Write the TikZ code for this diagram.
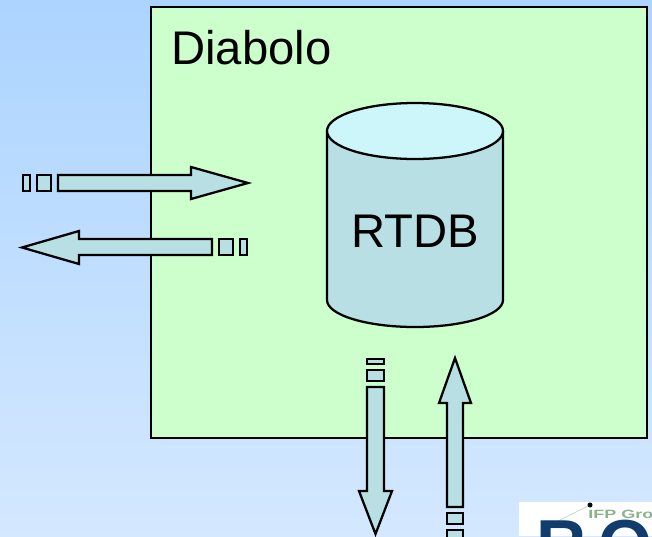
\documentclass[tikz,border=0pt]{standalone}
\usepackage{fontspec}
\setmainfont{Liberation Sans}
\definecolor{bgtop}{RGB}{172,212,255}
\definecolor{bgbot}{RGB}{212,232,255}
\definecolor{panel}{RGB}{204,255,204}
\definecolor{body}{RGB}{184,224,228}
\definecolor{lid}{RGB}{204,246,250}
\definecolor{logoblue}{RGB}{16,60,110}
\definecolor{logogreen}{RGB}{140,180,140}
\tikzset{
  ln/.style={draw=black,line width=1.7pt,line join=miter},
  blockshape/.style={ln,fill=body},
  bigtext/.style={font=\fontsize{35.4pt}{36pt}\selectfont,text=black,inner sep=0pt},
  logoletter/.style={font=\bfseries\fontsize{52pt}{54pt}\selectfont,text=logoblue,anchor=base west,inner sep=0pt},
}
\begin{document}
\begin{tikzpicture}[x=0.75pt,y=-0.75pt]
\useasboundingbox (0,0) rectangle (652,536);
\clip (0,0) rectangle (652,536);
\shade[top color=bgtop,bottom color=bgbot] (0,0) rectangle (652,536);
% panel
\draw[ln,fill=panel] (151,7) rectangle (647,438);
\node[bigtext,anchor=base west] (diabolo) at (171,64) {Diabolo};
% cylinder
\draw[ln,fill=body] (327,131) -- (327,300) arc[start angle=180,end angle=0,x radius=88,y radius=27] -- (503,131);
\draw[ln,fill=lid] (415,131) ellipse[x radius=88,y radius=28];
\node[bigtext,anchor=base] (rtdb) at (415,247) {RTDB};
% right-pointing arrow
\draw[blockshape] (23,175) rectangle (30,191);
\draw[blockshape] (37,175) rectangle (51,191);
\draw[blockshape] (58,175) -- (191,175) -- (191,167) -- (248,183) -- (191,199) -- (191,191) -- (58,191) -- cycle;
% left-pointing arrow
\draw[blockshape] (212,239) -- (79,239) -- (79,231) -- (22,247.5) -- (79,264) -- (79,255) -- (212,255) -- cycle;
\draw[blockshape] (219,239) rectangle (233,255);
\draw[blockshape] (240,239) rectangle (247,255);
% down arrow
\draw[blockshape] (367,359) rectangle (384,364);
\draw[blockshape] (367,370) rectangle (384,381);
\draw[blockshape] (367,387) -- (384,387) -- (384,491) -- (392,491) -- (375.5,534) -- (359,491) -- (367,491) -- cycle;
% up arrow
\draw[blockshape] (447,507) -- (447,403) -- (439,403) -- (455,358) -- (471,403) -- (463,403) -- (463,507) -- cycle;
\draw[blockshape] (447,513) rectangle (463,524);
\draw[blockshape] (447,530) rectangle (463,545);
% logo
\fill[white] (519,502) rectangle (652,536);
\draw[logogreen!50,line width=0.6pt] (558,521) -- (588,506);
\fill[black!80!logoblue] (590,505) circle[radius=2.5];
\node[logoletter] (letterr) at (536,568) {R};
\node[logoletter] (lettero) at (598,568) {O};
\node[font=\bfseries\fontsize{9pt}{10pt}\selectfont,text=logogreen,anchor=base west,inner sep=0pt] (ifp) at (588,518) {\scalebox{1.5}[1]{IFP Gro}};
\end{tikzpicture}
\end{document}
